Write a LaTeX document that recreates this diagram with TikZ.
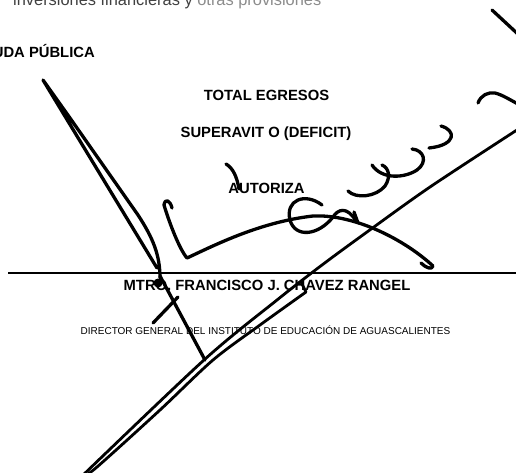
\documentclass[tikz,border=0pt]{standalone}
\usepackage{fontspec}
\setmainfont{Liberation Sans}
\begin{document}
\begin{tikzpicture}[x=1pt,y=-1pt,
  sig/.style={line width=3.3pt, line cap=round, line join=round},
  sigthin/.style={line width=2.8pt, line cap=round, line join=round},
  head/.style={font=\bfseries\fontsize{14.8}{17}\selectfont, inner sep=0pt, anchor=base},
  smalltxt/.style={font=\fontsize{10}{12}\selectfont, inner sep=0pt, anchor=base},
  toptxt/.style={font=\fontsize{16.4}{18}\selectfont, inner sep=0pt, anchor=base west},
  rule/.style={line width=2pt}]
\clip (0,0) rectangle (516,472);
\fill[white] (0,0) rectangle (516,472);
% texts
\node[toptxt] (top) at (13,5) {\textcolor{black!75}{inversiones financieras y} \textcolor{black!45}{otras provisiones}};
\node[head, anchor=base east] (deuda) at (95,57.3) {UDA PÚBLICA};
\node[head] (tot) at (266.5,100.5) {TOTAL EGRESOS};
\node[head] (sup) at (266,137.5) {SUPERAVIT O (DEFICIT)};
\node[head] (aut) at (266.5,193) {AUTORIZA};
\coordinate (r1) at (8,273);
\coordinate (r2) at (516,273);
\draw[rule] (r1) -- (r2);
\node[head] (name) at (267,290) {MTRO. FRANCISCO J. CHAVEZ RANGEL};
\node[smalltxt] (dir) at (265.5,334) {DIRECTOR GENERAL DEL INSTITUTO DE EDUCACIÓN DE AGUASCALIENTES};
% signature
\draw[sig] (157,268) -- (43,80) -- (70,118) -- (138,215) .. controls (153,238) and (160,255) .. (160,278);
\fill (158,283) circle (4.5);
\draw[sig] (160,276) -- (205,360);
\draw[sig] (153,323) -- (178,297);
\draw[sig] (172,208) .. controls (170,200) and (165,198) .. (164,205)
  .. controls (170,225) and (180,250) .. (187,258)
  .. controls (215,245) and (260,222) .. (313,216)
  .. controls (355,214) and (405,240) .. (433,266)
  .. controls (432,270) and (426,268) .. (421,263);
\draw[sig] (322,205) .. controls (305,192) and (285,200) .. (290,220)
  .. controls (295,238) and (318,236) .. (333,217)
  .. controls (338,209) and (347,206) .. (356,221);
\draw[sig] (354,212) -- (358,223);
\draw[sig] (226,164) .. controls (233,168) and (237,177) .. (239,189);
\draw[sigthin] plot[smooth] coordinates {(80,478) (204,360) (277,300) (322,265) (367,232) (430,187) (520,128)};
\draw[sigthin] plot[smooth] coordinates {(80,479) (97,467) (160,410) (213,360) (260,325) (306,292)} -- (301,282);
\draw[sig] (492,10) -- (520,36);
\draw[sig] (478,103) .. controls (481,95) and (488,92) .. (495,93) .. controls (503,95) and (510,100) .. (520,105);
\draw[sig] (441,126) .. controls (456,130) and (457,145) .. (429,148);
\draw[sig] (372,165) .. controls (382,180) and (405,178) .. (417,170) .. controls (428,162) and (424,150) .. (412,149);
\draw[sig] (348,191) .. controls (356,199) and (376,197) .. (385,186) .. controls (391,177) and (389,168) .. (382,165);
\end{tikzpicture}
\end{document}
